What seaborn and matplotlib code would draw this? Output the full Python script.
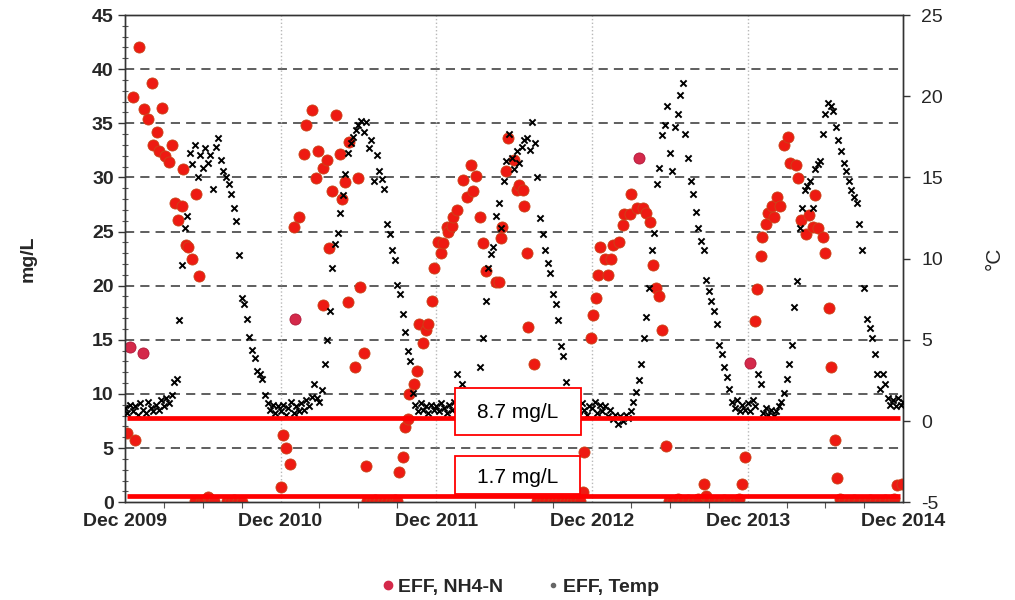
import numpy as np
import matplotlib
matplotlib.use("Agg")
import matplotlib.pyplot as plt
from matplotlib.patches import Rectangle
from matplotlib.lines import Line2D
from matplotlib.ticker import MultipleLocator
import seaborn as sns

# x axis = months since Dec 2009
year_months = [0, 12, 24, 36, 48, 60]
year_labels = ["Dec 2009", "Dec 2010", "Dec 2011", "Dec 2012", "Dec 2013", "Dec 2014"]

# effluent NH4-N (mg/L)
nh4_month = [
    0.2, 0.6, 0.8, 1.1, 1.5, 1.8, 2.1, 2.2, 2.5, 2.6, 2.9, 3.1, 3.4, 3.6, 3.9, 4.1, 4.4, 4.5,
    4.7, 4.9, 5.2, 5.5, 5.7,
    5.4, 5.9, 6.1, 6.4, 6.6, 6.9, 7.9, 8.1, 8.4, 8.7, 9.0,
    12.0, 12.2, 12.4, 12.7, 13.0, 13.4, 13.8, 14.0, 14.4, 14.7, 14.9, 15.3, 15.3, 15.6, 15.7,
    16.0, 16.3, 16.6, 16.7, 17.0, 17.2, 17.3, 17.7, 18.0, 18.1, 18.4, 18.6,
    18.7, 19.0, 19.3, 19.6, 19.9, 20.2, 20.5, 20.8, 21.0,
    21.1, 21.4, 21.6, 21.8, 21.9, 22.3, 22.5, 22.7, 23.0, 23.2, 23.4, 23.7, 23.8,
    24.1, 24.4, 24.5, 24.8, 24.9, 25.2, 25.3, 25.6, 26.1, 26.4, 26.7, 26.8, 27.1, 27.4, 27.6,
    27.8, 28.6, 28.8, 29.0, 29.1, 29.4, 29.5, 30.0, 30.2, 30.4, 30.7, 30.8, 31.0, 31.1, 31.5,
    31.8, 32.1, 32.4, 32.7, 33.0, 33.3, 33.6, 33.9, 34.2, 34.5, 34.8, 35.1, 35.3,
    35.4, 35.9, 36.1, 36.3, 36.5, 36.6, 37.0, 37.2, 37.5, 37.6, 38.1, 38.4, 38.5, 38.9, 39.0,
    39.5, 39.9, 40.2, 40.5, 40.7, 40.9, 41.2, 41.4, 41.7,
    41.9, 42.2, 42.6, 43.0, 43.4, 43.8, 44.2, 44.6, 44.8, 45.0, 45.4, 45.8, 46.2, 46.6, 47.0,
    47.3, 47.6, 47.8,
    48.6, 48.7, 49.0, 49.1, 49.4, 49.6, 49.9, 50.0, 50.3, 50.5, 50.8, 51.1, 51.3, 51.7, 51.9,
    52.1, 52.5, 52.7, 53.0, 53.2, 53.4, 53.8, 54.0, 54.3, 54.4, 54.7, 54.9,
    55.1, 55.4, 55.8, 56.2, 56.6, 57.0, 57.4, 57.8, 58.2, 58.6, 59.0, 59.3, 59.5, 59.9,
]
nh4_mgl = [
    6.4, 37.4, 5.7, 42.0, 36.3, 35.4, 38.7, 33.0, 34.2, 32.4, 36.4, 32.0, 31.4, 33.0, 27.6, 26.1, 27.4, 30.8,
    23.8, 23.6, 22.5, 28.5, 20.9,
    0.1, 0.0, 0.2, 0.5, 0.3, 0.1, 0.1, 0.0, 0.2, 0.1, 0.0,
    1.4, 6.2, 5.0, 3.5, 25.4, 26.3, 32.2, 34.8, 36.2, 29.9, 32.4, 30.9, 18.2, 31.6, 23.5,
    28.7, 35.8, 32.2, 28.0, 29.6, 18.5, 33.3, 12.5, 29.9, 19.9, 13.8, 3.3,
    0.1, 0.0, 0.2, 0.1, 0.0, 0.1, 0.0, 0.2, 0.1,
    2.8, 4.2, 6.9, 7.7, 10.0, 10.9, 12.1, 16.5, 14.7, 15.9, 16.5, 18.6, 21.6,
    24.0, 23.0, 23.9, 25.4, 25.0, 25.5, 26.3, 27.0, 29.8, 28.2, 31.1, 28.7, 30.1, 26.3, 23.9,
    21.4, 20.3, 20.3, 24.4, 25.4, 30.6, 33.6, 31.6, 28.8, 29.3, 28.8, 27.4, 23.0, 16.2, 12.8,
    0.1, 0.0, 0.2, 0.1, 0.0, 0.1, 0.2, 0.0, 0.1, 0.0, 0.3, 0.1, 0.9,
    4.6, 15.2, 17.3, 18.9, 21.0, 23.6, 22.5, 21.0, 22.5, 23.8, 24.0, 25.6, 26.6, 26.6, 28.5,
    27.2, 27.2, 26.7, 25.9, 21.9, 19.8, 19.0, 15.9, 5.2,
    0.1, 0.0, 0.3, 0.1, 0.2, 0.0, 0.3, 1.7, 0.6, 0.2, 0.1, 0.0, 0.2, 0.1, 0.0,
    0.3, 1.7, 4.2,
    16.7, 19.7, 22.7, 24.5, 25.7, 26.7, 27.4, 26.3, 28.2, 27.4, 33.0, 33.7, 31.3, 31.1, 29.9,
    26.1, 24.8, 26.5, 25.4, 28.4, 25.3, 24.5, 23.0, 17.9, 12.5, 5.7, 2.2,
    0.3, 0.1, 0.0, 0.2, 0.1, 0.0, 0.2, 0.1, 0.0, 0.2, 0.1, 0.3, 1.6, 1.7,
]
# a few samples drawn in a darker crimson
nh4_dark_month = [0.4, 1.4, 13.1, 39.6, 48.2]
nh4_dark_mgl = [14.3, 13.8, 16.9, 31.8, 12.9]

# effluent temperature (deg C), one reading every 0.2 month
temp_2010 = [0.8, 0.5, 1.0, 0.6, 0.9, 0.4, 1.1, 0.7, 0.5, 1.2, 0.8, 0.6, 1.0, 0.7, 1.3, 0.9,
             1.4, 1.1, 1.6, 2.4, 2.6, 6.2, 9.6, 11.9, 12.6, 16.5, 15.8, 17.0, 15.0, 16.4, 15.6, 16.8,
             15.9, 16.4, 14.3, 16.9, 17.4, 16.1, 15.4, 15.0, 14.6, 14.0, 13.1, 12.3, 10.2, 7.6, 7.2, 6.3,
             5.2, 4.4, 3.9, 3.1, 2.9, 2.6, 1.6, 1.1, 0.7, 1.0, 0.5, 0.9]
temp_2011 = [0.6, 1.0, 0.4, 0.8, 1.2, 0.5, 0.9, 0.6, 1.1, 0.7, 1.3, 0.9, 1.5, 2.3, 1.4, 1.2,
             1.9, 3.5, 5.0, 6.8, 9.4, 10.9, 11.6, 12.8, 13.9, 15.2, 16.5, 17.1, 17.5, 17.9, 18.2, 18.5,
             17.8, 18.4, 16.8, 17.3, 14.8, 16.4, 15.4, 14.9, 14.3, 12.1, 11.5, 10.5, 9.9, 8.4, 7.8, 6.6,
             5.5, 4.3, 3.7, 1.7, 1.0, 0.6, 1.1, 0.7, 0.9, 0.5, 1.0, 0.7]
temp_2012 = [0.9, 0.6, 1.1, 0.8, 0.5, 1.0, 0.7, 1.2, 2.9, 0.8, 2.3, 0.6, 1.0, 0.7, 1.1, 0.8,
             1.3, 3.3, 5.1, 7.4, 9.4, 10.3, 10.7, 12.6, 13.4, 11.9, 14.8, 16.0, 17.7, 16.2, 15.5, 16.6,
             15.9, 16.9, 17.3, 17.4, 16.7, 18.4, 17.1, 15.0, 12.5, 11.5, 10.5, 9.7, 9.1, 7.8, 7.2, 6.2,
             4.6, 4.0, 2.4, 0.7, 1.0, 0.5, 0.9, 0.6, 1.1, 0.7, 0.4, 0.9]
temp_2013 = [0.8, 1.2, 0.5, 1.0, 0.6, 0.9, 0.3, 0.7, 0.1, 0.4, -0.2, 0.3, 0.0, 0.4, 0.2, 0.6,
             1.2, 1.8, 2.5, 3.5, 5.1, 6.4, 8.2, 10.5, 11.6, 14.6, 15.6, 17.6, 18.2, 19.4, 16.5, 15.4,
             18.1, 18.9, 20.1, 20.8, 17.7, 16.2, 14.8, 14.0, 12.9, 11.9, 11.1, 10.5, 8.7, 8.0, 7.4, 6.8,
             6.0, 4.7, 4.1, 3.3, 2.7, 2.0, 1.2, 0.8, 1.3, 0.6, 1.0, 0.7]
temp_2014 = [1.1, 0.6, 1.3, 0.9, 2.9, 2.3, 0.5, 0.8, 0.4, 0.7, 0.3, 0.6, 0.9, 1.2, 1.7, 2.6,
             3.5, 4.7, 7.0, 8.6, 11.9, 13.1, 14.2, 14.5, 14.8, 13.1, 15.5, 15.8, 16.0, 17.7, 18.9, 19.6,
             19.4, 19.1, 18.1, 17.3, 16.6, 15.9, 15.4, 14.8, 14.2, 13.8, 13.4, 12.1, 10.5, 8.2, 6.3, 5.7,
             5.1, 4.1, 2.9, 2.0, 2.9, 2.3, 1.4, 1.0, 1.3, 0.9, 1.4, 1.0, 1.2]
temp_c = temp_2010 + temp_2011 + temp_2012 + temp_2013 + temp_2014
temp_month = np.round(np.arange(len(temp_c)) * 0.2, 1)

# red limit lines (mg/L) and their labels
limit_levels = [7.75, 0.55]
limit_labels = ["8.7 mg/L", "1.7 mg/L"]

sns.set_style("white")
plt.rcParams['font.family'] = ['Liberation Sans', 'DejaVu Sans']

fig = plt.figure(figsize=(10.15, 6), dpi=100, facecolor='white')
ax = fig.add_axes([0.123, 0.163, 0.767, 0.812])
ax2 = ax.twinx()

# grid
for v in range(5, 45, 5):
    ax.axhline(v, color='#333333', lw=1.1, dashes=(6, 4), zorder=0)
for m in year_months[1:-1]:
    ax.axvline(m, color='#b8b8b8', lw=1, ls=':', zorder=0)

sns.scatterplot(x=nh4_month, y=nh4_mgl, ax=ax, color='#ee1a12', edgecolor='#c8461a',
                linewidth=0.6, s=64, zorder=3)
sns.scatterplot(x=nh4_dark_month, y=nh4_dark_mgl, ax=ax, color='#d4294a', edgecolor='#b01a3a',
                linewidth=0.6, s=64, zorder=3)
sns.scatterplot(x=temp_month, y=temp_c, ax=ax2, marker='x', color='black', s=20,
                linewidth=1.4, zorder=3)

ax.set_xlim(0, 60)
ax.set_ylim(0, 45)
ax2.set_ylim(-5, 25)

# red limit lines, drawn in mg/L coordinates on top of the temperature axis
for lvl in limit_levels:
    ax2.plot([0.15, 59.75], [lvl, lvl], color='#ff0000', lw=3.4, transform=ax.transData,
             zorder=5, solid_capstyle='butt')

box1 = Rectangle((25.45, 6.19), 9.7, 4.35, transform=ax.transData, facecolor='white',
                 edgecolor='#ff0000', lw=1.3, zorder=6)
ax2.add_patch(box1)
ax2.text(30.3, 7.76, limit_labels[0], transform=ax.transData, ha='center', va='baseline',
         fontsize=15, color='black', zorder=7)

box2 = Rectangle((25.45, 0.74), 9.63, 3.51, transform=ax.transData, facecolor='white',
                 edgecolor='#ff0000', lw=1.3, zorder=4)
ax2.add_patch(box2)
clip = Rectangle((25.45, 1.57), 9.63, 2.68, transform=ax.transData)
t2 = ax2.text(30.3, 1.75, limit_labels[1], transform=ax.transData, ha='center', va='baseline',
              fontsize=15, color='black', zorder=4.5)
t2.set_clip_path(clip)

# ticks
ax.set_xticks(year_months)
ax.set_xticklabels(year_labels, fontsize=14, fontweight='bold')
ax.xaxis.set_minor_locator(MultipleLocator(3))
ax.set_yticks(range(0, 46, 5))
ax.set_yticklabels([str(v) for v in range(0, 46, 5)], fontsize=14, fontweight='bold')
ax.yaxis.set_minor_locator(MultipleLocator(1))
ax.tick_params(axis='both', which='major', direction='out', length=5, width=1, color='#333333', pad=3)
ax.tick_params(axis='y', which='minor', direction='inout', length=4, width=0.8, color='#555555', left=True)
ax.tick_params(axis='x', which='minor', direction='out', length=4, width=0.8, color='#555555', bottom=True)
ax2.set_yticks(range(-5, 26, 5))
ax2.set_yticklabels([str(v) for v in range(-5, 26, 5)], fontsize=14)
ax2.tick_params(axis='y', which='major', direction='out', length=5, width=1, color='#333333', pad=8)

for a in (ax, ax2):
    for s in a.spines.values():
        s.set_color('#333333')
        s.set_linewidth(1)

ax.set_xlabel('')
ax.set_ylabel('mg/L', fontsize=14, fontweight='bold', labelpad=40)
ax2.set_ylabel('°C', fontsize=15, labelpad=30)

handles = [
    Line2D([], [], marker='o', ls='', color='#d4294a', markersize=6),
    Line2D([], [], marker='o', ls='', color='#666666', markersize=3),
]
fig.legend(handles, ['EFF, NH4-N', 'EFF, Temp'], loc='center', bbox_to_anchor=(0.512, 0.022),
           ncol=2, frameon=False, prop={'size': 14, 'weight': 'bold'}, handletextpad=0.1,
           columnspacing=2.2, handlelength=0.8)

fig.savefig('out.png', dpi=100, facecolor='white')
